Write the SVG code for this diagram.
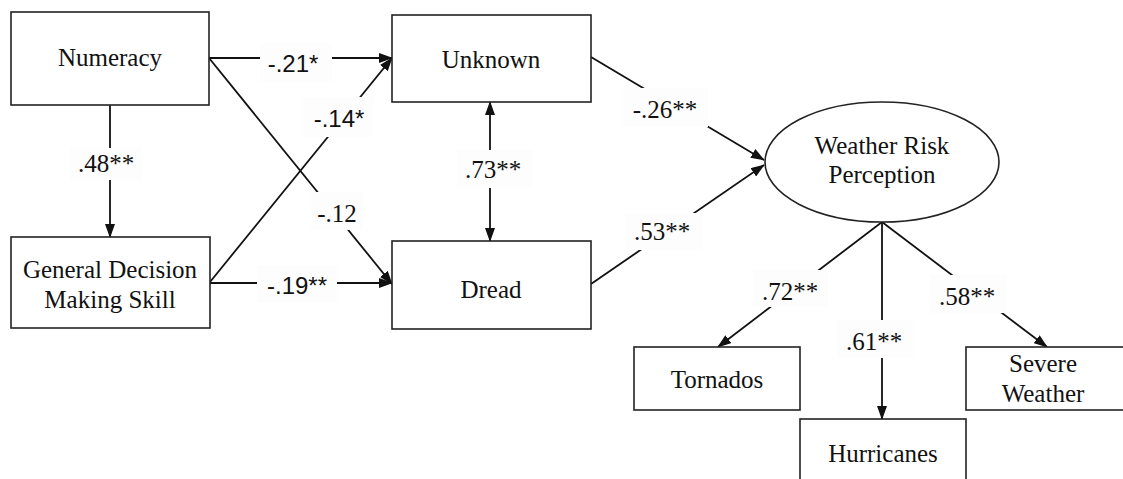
<svg xmlns="http://www.w3.org/2000/svg" width="1123" height="479" viewBox="0 0 1123 479">
<style>
.box{fill:#fff;stroke:#222;stroke-width:1.6}
.n{font-family:'Liberation Serif','DejaVu Serif',serif;font-size:25px;fill:#111;text-anchor:middle}
.ls{font-family:'Liberation Serif','DejaVu Serif',serif;font-size:25px;fill:#111;text-anchor:middle}
.lh{font-family:'Liberation Sans',Arial,sans-serif;font-size:24px;fill:#111;text-anchor:middle}
.c{stroke:#111;stroke-width:1.8;fill:none}
.bg{fill:#fdfdfd}
</style>
<defs>
<marker id="ah" markerUnits="userSpaceOnUse" markerWidth="14" markerHeight="10" refX="13" refY="5" orient="auto">
<path d="M0,0 L14,5 L0,10 Z" fill="#111"/>
</marker>
<marker id="at" markerUnits="userSpaceOnUse" markerWidth="14" markerHeight="10" refX="1" refY="5" orient="auto">
<path d="M14,0 L0,5 L14,10 Z" fill="#111"/>
</marker>
</defs>
<g id="connectors">
<line class="c" x1="209" y1="58" x2="392" y2="58" marker-end="url(#ah)"/>
<line class="c" x1="209" y1="58" x2="392" y2="284" marker-end="url(#ah)"/>
<line class="c" x1="210" y1="282" x2="392" y2="58" marker-end="url(#ah)"/>
<line class="c" x1="210" y1="283" x2="392" y2="283" marker-end="url(#ah)"/>
<line class="c" x1="110" y1="105" x2="110" y2="237" marker-end="url(#ah)"/>
<line class="c" x1="490" y1="102" x2="490" y2="241" marker-start="url(#at)" marker-end="url(#ah)"/>
<line class="c" x1="591" y1="57" x2="764" y2="160" marker-end="url(#ah)"/>
<line class="c" x1="591" y1="284" x2="764" y2="165" marker-end="url(#ah)"/>
<line class="c" x1="882" y1="222" x2="718" y2="347" marker-end="url(#ah)"/>
<line class="c" x1="882" y1="222" x2="882" y2="419" marker-end="url(#ah)"/>
<line class="c" x1="882" y1="222" x2="1047" y2="347" marker-end="url(#ah)"/>
<rect class="bg" x="260" y="42" width="72" height="40"/>
<text class="lh" x="293" y="72">-.21*</text>
<rect class="bg" x="303" y="97" width="70" height="40"/>
<text class="lh" x="339" y="127">-.14*</text>
<rect class="bg" x="70" y="148" width="72" height="32"/>
<text class="ls" x="106" y="172" font-family="Liberation Serif, serif">.48**</text>
<rect class="bg" x="311" y="192" width="52" height="38"/>
<text class="ls" x="337" y="222">-.12</text>
<rect class="bg" x="257" y="265" width="80" height="38"/>
<text class="lh" x="297" y="294">-.19**</text>
<rect class="bg" x="457" y="150" width="76" height="38"/>
<text class="ls" x="493" y="178">.73**</text>
<rect class="bg" x="623" y="88" width="85" height="39"/>
<text class="ls" x="665" y="118">-.26**</text>
<rect class="bg" x="625" y="213" width="77" height="37"/>
<text class="ls" x="662" y="240">.53**</text>
<rect class="bg" x="753" y="270" width="75" height="37"/>
<text class="ls" x="790" y="300">.72**</text>
<rect class="bg" x="837" y="320" width="76" height="38"/>
<text class="ls" x="874" y="350">.61**</text>
<rect class="bg" x="930" y="275" width="77" height="38"/>
<text class="ls" x="967" y="305">.58**</text>
</g>
<g id="numeracy">
<rect class="box" x="11" y="12" width="198" height="93"/>
<text class="n" x="110" y="66">Numeracy</text>
</g>
<g id="gdms">
<rect class="box" x="11" y="237" width="199" height="91"/>
<text class="n" x="110" y="278">General Decision</text>
<text class="n" x="110" y="308">Making Skill</text>
</g>
<g id="unknown">
<rect class="box" x="392" y="15" width="199" height="87"/>
<text class="n" x="491" y="68">Unknown</text>
</g>
<g id="dread">
<rect class="box" x="392" y="241" width="199" height="88"/>
<text class="n" x="491" y="298">Dread</text>
</g>
<g id="weather-risk-perception">
<ellipse class="box" cx="882" cy="162" rx="117" ry="60"/>
<text class="n" x="882" y="154">Weather Risk</text>
<text class="n" x="882" y="183">Perception</text>
</g>
<g id="tornados">
<rect class="box" x="634" y="347" width="166" height="63"/>
<text class="n" x="717" y="388">Tornados</text>
</g>
<g id="hurricanes">
<rect class="box" x="800" y="419" width="166" height="70"/>
<text class="n" x="883" y="462">Hurricanes</text>
</g>
<g id="severe-weather">
<rect class="box" x="966" y="347" width="170" height="63"/>
<text class="n" x="1043" y="372">Severe</text>
<text class="n" x="1043" y="402">Weather</text>
</g>
</svg>
